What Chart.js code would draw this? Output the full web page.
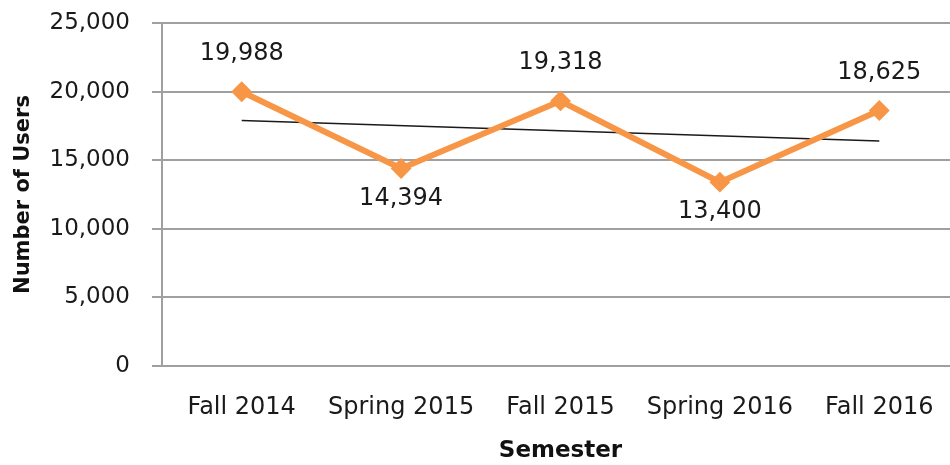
<!DOCTYPE html>
<html>
<head>
<meta charset="utf-8">
<script src="https://cdn.jsdelivr.net/npm/chart.js@4"></script>
<style>
  html, body { margin: 0; padding: 0; background: #fff; overflow: hidden; }
  #wrap { width: 970px; height: 465px; }
</style>
</head>
<body>
<div id="wrap"><canvas id="myChart" width="970" height="465"></canvas></div>
<script>
const semesters = ['Fall 2014', 'Spring 2015', 'Fall 2015', 'Spring 2016', 'Fall 2016']
const users = [19988, 14394, 19318, 13400, 18625]
// trend line ends
const trend = [17890, null, null, null, 16400]
const yTicks = [0, 5000, 10000, 15000, 20000, 25000]
// label above (true) or below (false) each point
const labelAbove = [true, false, true, false, true]

const fmt = v => v.toLocaleString('en-US')
const font = "'DejaVu Sans', Verdana, sans-serif"

const valueLabels = {
  id: 'valueLabels',
  afterDatasetsDraw(chart) {
    const ctx = chart.ctx
    const meta = chart.getDatasetMeta(0)
    ctx.save()
    ctx.font = '24px ' + font
    ctx.fillStyle = '#1a1a1a'
    ctx.textAlign = 'center'
    meta.data.forEach((pt, i) => {
      if (labelAbove[i]) {
        ctx.textBaseline = 'bottom'
        ctx.fillText(fmt(users[i]), pt.x, pt.y - 26)
      } else {
        ctx.textBaseline = 'top'
        ctx.fillText(fmt(users[i]), pt.x, pt.y + 18)
      }
    })
    ctx.restore()
  }
}

new Chart(document.getElementById('myChart'), {
  type: 'line',
  data: {
    labels: semesters,
    datasets: [
      {
        label: 'Users',
        data: users,
        borderColor: '#f79646',
        backgroundColor: '#f79646',
        borderWidth: 6,
        pointStyle: 'rectRot',
        pointRadius: 9,
        pointBorderWidth: 2,
        tension: 0,
        order: 1
      },
      {
        label: 'Trend',
        data: trend,
        borderColor: '#1a1a1a',
        borderWidth: 1.5,
        pointRadius: 0,
        spanGaps: true,
        order: 2
      }
    ]
  },
  options: {
    responsive: false,
    animation: false,
    layout: { padding: { top: 23, right: 2 } },
    plugins: {
      legend: { display: false },
      tooltip: { enabled: false }
    },
    scales: {
      x: {
        offset: true,
        grid: { display: false, drawTicks: false },
        border: { color: '#a0a0a0', width: 2 },
        ticks: { color: '#1a1a1a', font: { family: font, size: 24 }, padding: 27, maxRotation: 0, autoSkip: false },
        title: { display: true, text: 'Semester', color: '#111', font: { family: font, size: 23, weight: 'bold' }, padding: { top: 0, bottom: 0 } },
        afterFit(scale) {
          scale.height = 99
          scale.paddingLeft = 0
          scale.paddingRight = 0
        }
      },
      y: {
        min: 0,
        max: 25000,
        afterBuildTicks(scale) { scale.ticks = yTicks.map(v => ({ value: v })) },
        grid: { color: '#a0a0a0', lineWidth: 2, tickLength: 10 },
        border: { color: '#a0a0a0', width: 2 },
        ticks: { color: '#1a1a1a', font: { family: font, size: 23 }, padding: 22, callback: v => fmt(v) },
        title: { display: true, text: 'Number of Users', color: '#111', font: { family: font, size: 21, weight: 'bold' }, padding: { bottom: 0, top: 11 } },
        afterFit(scale) {
          scale.width = 162
          scale.paddingTop = 0
          scale.paddingBottom = 0
        }
      }
    }
  },
  plugins: [valueLabels]
})
</script>
</body>
</html>
